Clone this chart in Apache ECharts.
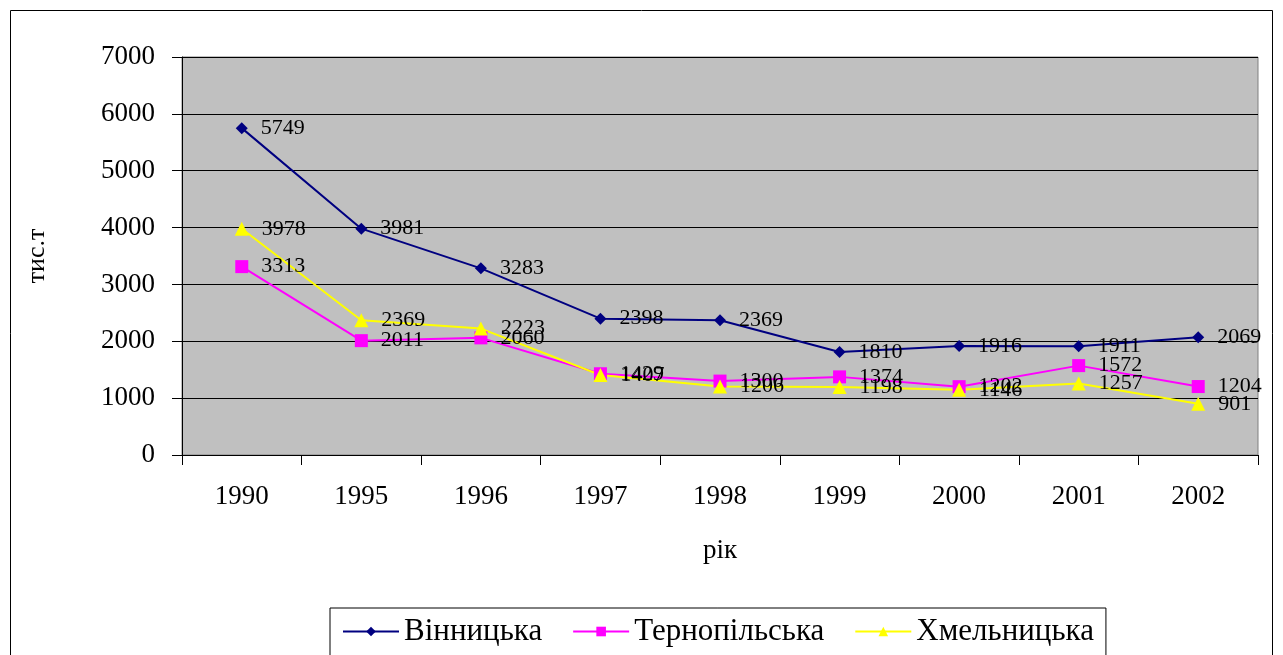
<!DOCTYPE html>
<html><head><meta charset="utf-8">
<script src="https://cdn.jsdelivr.net/npm/echarts@6/dist/echarts.min.js"></script>
<style>html,body{margin:0;padding:0;background:#fff}#c{width:1283px;height:655px}</style>
</head><body><div id="c"></div>
<script>
var years = ['1990','1995','1996','1997','1998','1999','2000','2001','2002'];
var vinnytsia = [5749,3981,3283,2398,2369,1810,1916,1911,2069];
var ternopil = [3313,2011,2060,1429,1300,1374,1202,1572,1204];
var khmelnytsk = [3978,2369,2223,1407,1206,1198,1146,1257,901];
var yTicks = [0,1000,2000,3000,4000,5000,6000,7000];
var font = '"Liberation Serif","Times New Roman",serif';
var chart = echarts.init(document.getElementById('c'));
function ser(name, data, color, symbol, size){
  return {name:name,type:'line',data:data,symbol:symbol,symbolSize:size,
    lineStyle:{color:color,width:2},itemStyle:{color:color},
    label:{show:true,position:'right',distance:13,color:'#000',fontFamily:font,fontSize:22},
    animation:false};
}
chart.setOption({
  animation:false,
  graphic:[{type:'rect',shape:{x:10.5,y:10.5,width:1262,height:660},style:{fill:'none',stroke:'#000',lineWidth:1}}],
  grid:{left:182,right:25,top:57,bottom:200,show:true,backgroundColor:'#C0C0C0',borderColor:'#808080',borderWidth:1},
  xAxis:{type:'category',data:years,boundaryGap:true,name:'рік',nameLocation:'middle',nameGap:82,
    nameTextStyle:{fontFamily:font,fontSize:27,color:'#000'},
    axisLine:{lineStyle:{color:'#000'}},axisTick:{show:true,length:10,lineStyle:{color:'#000'}},
    axisLabel:{fontFamily:font,fontSize:27,color:'#000',margin:28}},
  yAxis:{type:'value',min:yTicks[0],max:yTicks[yTicks.length-1],interval:1000,name:'тис.т',nameLocation:'middle',nameGap:132,
    nameTextStyle:{fontFamily:font,fontSize:26,color:'#000'},
    axisLine:{show:true,lineStyle:{color:'#000'}},axisTick:{show:true,length:10,lineStyle:{color:'#000'}},
    splitLine:{show:true,lineStyle:{color:'#000',width:1}},
    axisLabel:{fontFamily:font,fontSize:27,color:'#000',margin:27,formatter:function(v){return String(v);}}},
  legend:{bottom:-10,left:330,itemWidth:56,itemHeight:12,itemGap:30,
    borderColor:'#000',borderWidth:1,padding:[8,12,18,12],
    textStyle:{fontFamily:font,fontSize:31,color:'#000'},
    data:['Вінницька','Тернопільська','Хмельницька']},
  series:[
    ser('Вінницька',vinnytsia,'#000080','diamond',12),
    ser('Тернопільська',ternopil,'#FF00FF','rect',13),
    ser('Хмельницька',khmelnytsk,'#FFFF00','triangle',14)
  ]
});
</script></body></html>
